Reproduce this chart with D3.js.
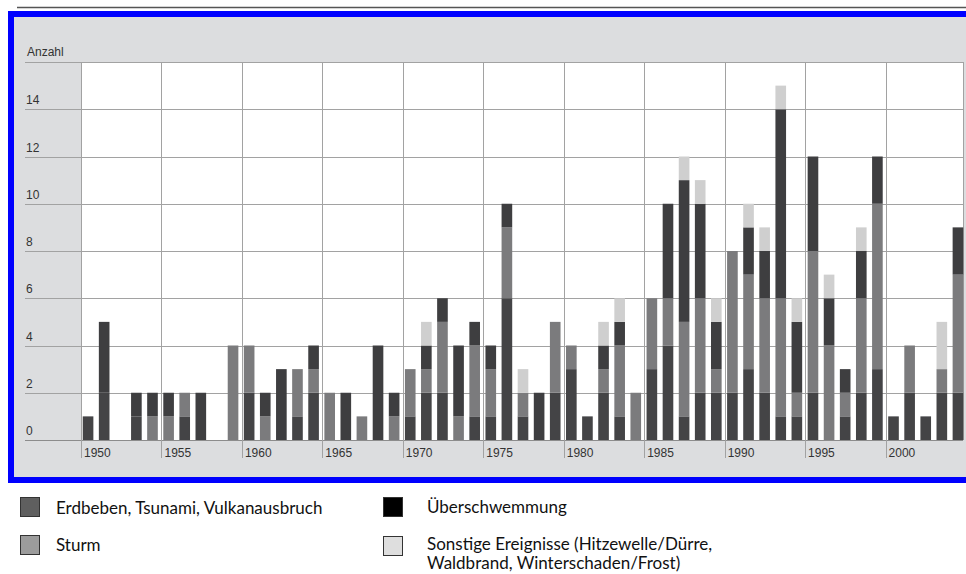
<!DOCTYPE html>
<html>
<head>
<meta charset="utf-8">
<script src="https://cdn.jsdelivr.net/npm/d3@7"></script>
<style>
  html, body { margin: 0; padding: 0; background: #ffffff; }
  svg { display: block; }
</style>
</head>
<body>
<script>
// ---------- DATA ----------
const years = [1950,1951,1952,1953,1954,1955,1956,1957,1958,1959,
               1960,1961,1962,1963,1964,1965,1966,1967,1968,1969,
               1970,1971,1972,1973,1974,1975,1976,1977,1978,1979,
               1980,1981,1982,1983,1984,1985,1986,1987,1988,1989,
               1990,1991,1992,1993,1994,1995,1996,1997,1998,1999,
               2000,2001,2002,2003,2004];
// Erdbeben, Tsunami, Vulkanausbruch
const erdbeben = [1,2,0,1,0,0,1,0,0,0,
                  2,0,0,1,2,0,0,0,0,0,
                  1,2,2,0,1,1,6,1,0,2,
                  3,1,2,1,0,3,4,1,2,2,
                  2,3,2,1,1,2,0,1,2,3,
                  1,2,1,2,2];
// Sturm
const sturm = [0,0,0,0,1,1,1,0,0,4,
               2,1,0,2,1,2,0,1,0,1,
               2,1,3,1,3,2,3,1,0,3,
               1,0,1,3,2,3,2,4,4,1,
               6,4,4,5,1,6,4,1,4,7,
               0,2,0,1,5];
// Überschwemmung
const ueberschwemmung = [0,3,0,1,1,1,0,2,0,0,
                         0,1,3,0,1,0,2,0,4,1,
                         0,1,1,3,1,1,1,0,2,0,
                         0,0,1,1,0,0,4,6,4,2,
                         0,2,2,8,3,4,2,1,2,2,
                         0,0,0,0,2];
// Sonstige Ereignisse
const sonstige = [0,0,0,0,0,0,0,0,0,0,
                  0,0,0,0,0,0,0,0,0,0,
                  0,1,0,0,0,0,0,1,0,0,
                  0,0,1,1,0,0,0,1,1,1,
                  0,1,1,1,1,0,1,0,1,0,
                  0,0,0,2,0];
const yTicks = [0,2,4,6,8,10,12,14];
const yearTicks = [1950,1955,1960,1965,1970,1975,1980,1985,1990,1995,2000];
const seriesKeys = ["erdbeben","sturm","ueberschwemmung","sonstige"];
const legendLabels = {
  erdbeben: ["Erdbeben, Tsunami, Vulkanausbruch"],
  sturm: ["Sturm"],
  ueberschwemmung: ["Überschwemmung"],
  sonstige: ["Sonstige Ereignisse (Hitzewelle/Dürre,", "Waldbrand, Winterschaden/Frost)"]
};
const yTitle = "Anzahl";

// ---------- STYLE ----------
const barColors = {erdbeben:"#444446", sturm:"#7b7b7d", ueberschwemmung:"#3e3e40", sonstige:"#cfcfcf"};
const legendColors = {erdbeben:"#5f5f5f", sturm:"#9c9c9c", ueberschwemmung:"#000000", sonstige:"#dedede"};

const W = 966, H = 574;
const svg = d3.select("body").append("svg").attr("width", W).attr("height", H);

// top thin rule
svg.append("line").attr("x1",17).attr("x2",W).attr("y1",7.5).attr("y2",7.5)
   .attr("stroke","#555").attr("stroke-width",1.3);

// frame with grey background
svg.append("rect").attr("x",11).attr("y",14).attr("width",W-11+10).attr("height",466)
   .attr("fill","#dcdddf").attr("stroke","#0000ff").attr("stroke-width",6);

const plotL = 81, plotR = 963, plotT = 62, plotB = 440;

const y = d3.scaleLinear().domain([0,16]).range([plotB, plotT]);
const xGrid = d3.scaleLinear().domain([1950,2005]).range([plotL, 966]);
const x = d3.scaleBand().domain(years).range([80, 966]).paddingInner(0.34).paddingOuter(0.17);

// white plot
svg.append("rect").attr("x",plotL).attr("y",plotT).attr("width",plotR-plotL).attr("height",plotB-plotT)
   .attr("fill","#ffffff");

// horizontal grid lines (extend into label column)
svg.append("g").selectAll("line").data(yTicks.concat([16])).join("line")
   .attr("x1",25).attr("x2",plotR)
   .attr("y1",d=>Math.round(y(d))+0.5).attr("y2",d=>Math.round(y(d))+0.5)
   .attr("stroke",d=> d===0 ? "#8c8c8c" : "#a2a2a2").attr("stroke-width",1);

// vertical grid lines / ticks
svg.append("g").selectAll("line").data(yearTicks).join("line")
   .attr("x1",d=>Math.round(xGrid(d))+0.5).attr("x2",d=>Math.round(xGrid(d))+0.5)
   .attr("y1",plotT).attr("y2",458)
   .attr("stroke","#a2a2a2").attr("stroke-width",1);
svg.append("line").attr("x1",plotR+0.5).attr("x2",plotR+0.5).attr("y1",plotT).attr("y2",plotB)
   .attr("stroke","#a2a2a2");

// stacked bars
const table = years.map((yr,i)=>({year:yr, erdbeben:erdbeben[i], sturm:sturm[i],
  ueberschwemmung:ueberschwemmung[i], sonstige:sonstige[i]}));
const stack = d3.stack().keys(seriesKeys)(table);
svg.append("g").selectAll("g").data(stack).join("g")
   .attr("fill", d=>barColors[d.key])
   .selectAll("rect").data(d=>d.filter(s=>s[1]>s[0])).join("rect")
   .attr("x", d=>x(d.data.year))
   .attr("width", x.bandwidth())
   .attr("y", d=>y(d[1]))
   .attr("height", d=>y(d[0])-y(d[1]));

// y labels
const fontAxis = "'Liberation Sans', Arial, sans-serif";
svg.append("g").selectAll("text").data(yTicks).join("text")
   .attr("x",26).attr("y",d=>y(d)-5)
   .attr("font-family",fontAxis).attr("font-size",12).attr("fill","#333")
   .text(d=>d);
svg.append("text").attr("x",27).attr("y",56)
   .attr("font-family",fontAxis).attr("font-size",12).attr("fill","#333").text(yTitle);

// x labels
svg.append("g").selectAll("text").data(yearTicks).join("text")
   .attr("x",d=>xGrid(d)+3).attr("y",457)
   .attr("font-family",fontAxis).attr("font-size",12).attr("fill","#333")
   .text(d=>d);

// legend
const legendPos = {
  erdbeben: {sx:20, sy:497, tx:56, ty:514},
  ueberschwemmung: {sx:383, sy:497, tx:427, ty:513},
  sturm: {sx:20, sy:535, tx:56, ty:551},
  sonstige: {sx:383, sy:536, tx:427, ty:550}
};
const fontLeg = "Lato, 'Liberation Sans', sans-serif";
seriesKeys.forEach(k=>{
  const p = legendPos[k];
  svg.append("rect").attr("x",p.sx+0.5).attr("y",p.sy+0.5).attr("width",19).attr("height",19)
     .attr("fill",legendColors[k]).attr("stroke","#333").attr("stroke-width",1);
  const t = svg.append("text").attr("x",p.tx).attr("y",p.ty)
     .attr("font-family",fontLeg).attr("font-size",17).attr("fill","#111");
  legendLabels[k].forEach((line,i)=>{
    t.append("tspan").attr("x",p.tx).attr("dy", i===0?0:19).text(line);
  });
});
</script>
</body>
</html>
